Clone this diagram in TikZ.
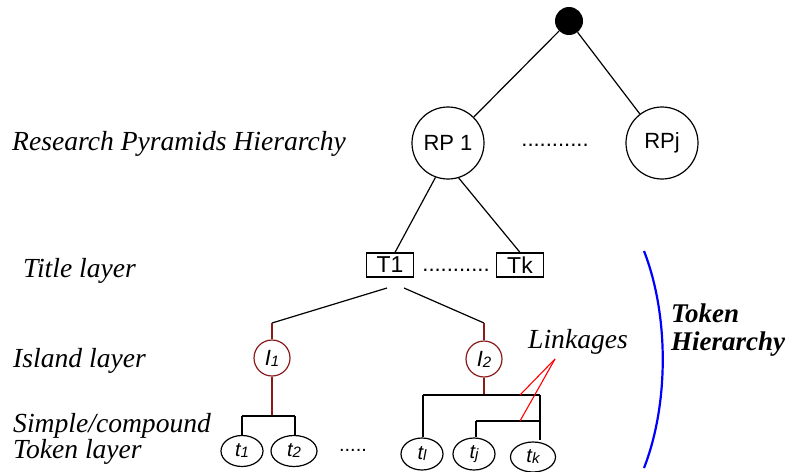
\documentclass[tikz,border=0pt]{standalone}
\usepackage{fontspec}
\setmainfont{Liberation Serif}
\setsansfont{Liberation Sans}
\usetikzlibrary{shapes.geometric}
\definecolor{islandred}{RGB}{139,26,26}
\definecolor{linkred}{RGB}{255,0,0}
\definecolor{bracketblue}{RGB}{0,0,255}
\tikzset{
  layerlabel/.style={anchor=base west, inner sep=0pt, font=\fontsize{27.6}{26}\selectfont\itshape, align=left},
  rpnode/.style={circle, draw, line width=1.2pt, minimum size=72pt, inner sep=0pt, font=\sffamily\fontsize{22}{26}\selectfont},
  titlebox/.style={rectangle, draw, line width=1.2pt, minimum width=47pt, minimum height=24pt, inner sep=0pt, font=\sffamily\fontsize{23}{26}\selectfont},
  islandnode/.style={circle, draw=islandred, line width=1.2pt, minimum size=36pt, inner sep=0pt, font=\sffamily\itshape\fontsize{22}{26}\selectfont},
  tokennode/.style={ellipse, draw, line width=1.2pt, inner sep=0pt, font=\sffamily\itshape\fontsize{20}{24}\selectfont},
  dotsnode/.style={inner sep=0pt, font=\sffamily\fontsize{22}{26}\selectfont},
  link/.style={line width=1.2pt},
  redlink/.style={line width=1.2pt, draw=islandred},
  linkage/.style={line width=1.1pt, draw=linkred}
}
\newcommand{\subidx}[1]{\raisebox{-1pt}{\fontsize{15}{16}\selectfont #1}}
\begin{document}
\begin{tikzpicture}[x=1pt, y=-1pt]
\useasboundingbox (0,0) rectangle (800,471);

% layer captions
\node[layerlabel] (lrp) at (12,150) {Research Pyramids Hierarchy};
\node[layerlabel] (ltitle) at (23,277) {Title layer};
\node[layerlabel] (lisland) at (13,367) {Island layer};
\node[layerlabel] (lsimple) at (13,432) {Simple/compound};
\node[layerlabel] (ltoken) at (13,458) {Token layer};

% root and research pyramids
\node[circle, fill=black, minimum size=28pt, inner sep=0pt] (root) at (569,21) {};
\node[rpnode] (rp1) at (448,143) {RP 1};
\node[rpnode] (rpj) at (662,143) {RPj};
\node[dotsnode] (rpdots) at (555,145) {...........};
\draw[link] (root) -- (rp1);
\draw[link] (root) -- (rpj);

% title layer
\node[titlebox] (t1) at (390,265) {T1};
\node[titlebox] (tk) at (520,265) {Tk};
\node[dotsnode] (tdots) at (456,270) {...........};
\draw[link] (rp1.250) -- ([xshift=5pt]t1.north);
\draw[link] (rp1.287) -- (tk.north);

% island layer
\node[islandnode] (i1) at (272,358) {I\subidx{1}};
\node[islandnode] (i2) at (484,359) {I\subidx{2}};
\coordinate (sL) at (387,288);
\coordinate (sR) at (404,288);
\coordinate (kL) at (272,323);
\coordinate (kR) at (484,323);
\draw[link] (sL) -- (kL);
\draw[link] (sR) -- (kR);
\draw[redlink] (kL) -- (i1);
\draw[redlink] (kR) -- (i2);

% token layer
\node[tokennode, minimum width=42pt, minimum height=31pt] (tok1) at (242,451) {t\subidx{1}};
\node[tokennode, minimum width=46pt, minimum height=31pt] (tok2) at (294,451) {t\subidx{2}};
\node[dotsnode, font=\sffamily\fontsize{20}{24}\selectfont] (tokdots) at (353,450) {.....};
\node[tokennode, minimum width=42pt, minimum height=32pt] (tokl) at (422,454) {t\subidx{l}};
\node[tokennode, minimum width=42pt, minimum height=32pt] (tokj) at (474,454) {t\subidx{j}};
\node[tokennode, minimum width=45pt, minimum height=30pt] (tokk) at (533,457) {t\subidx{k}};

% branches under I1
\coordinate (b1) at (272,416);
\coordinate (b1L) at (242,416);
\coordinate (b1R) at (295,416);
\draw[redlink] (i1) -- (b1);
\draw[link] (b1L) -- (b1R);
\draw[link] (b1L) -- (tok1.north);
\draw[link] (b1R) -- (b1R |- tok2.north);

% branches under I2
\coordinate (b2) at (484,395);
\coordinate (b2L) at (423,395);
\coordinate (b2R) at (540,395);
\coordinate (c2L) at (476,421);
\coordinate (c2R) at (540,421);
\coordinate (kTop) at (540,440);
\draw[redlink] (i2) -- (b2);
\draw[link] (b2L) -- (b2R);
\draw[link] (b2L) -- (b2L |- tokl.north);
\draw[link] (b2R) -- (kTop);
\draw[link] (c2L) -- (c2R);
\draw[link] (c2L) -- (c2L |- tokj.north);

% linkages
\node[anchor=base west, inner sep=0pt, font=\fontsize{27.6}{26}\selectfont\itshape] (linktxt) at (528,348) {Linkages};
\coordinate (lk) at (555,359);
\coordinate (lk1) at (520,395);
\coordinate (lk2) at (520,421);
\draw[linkage] (lk) -- (lk1);
\draw[linkage] (lk) -- (lk2);

% token hierarchy bracket
\coordinate (brTop) at (644,251);
\coordinate (brBot) at (644,468);
\draw[line width=2.2pt, draw=bracketblue] (brTop) .. controls (669,315) and (669,404) .. (brBot);
\node[anchor=base west, inner sep=0pt, align=left, font=\fontsize{27}{28}\selectfont\bfseries\itshape] (th) at (671,350) {Token\\Hierarchy};
\end{tikzpicture}
\end{document}
